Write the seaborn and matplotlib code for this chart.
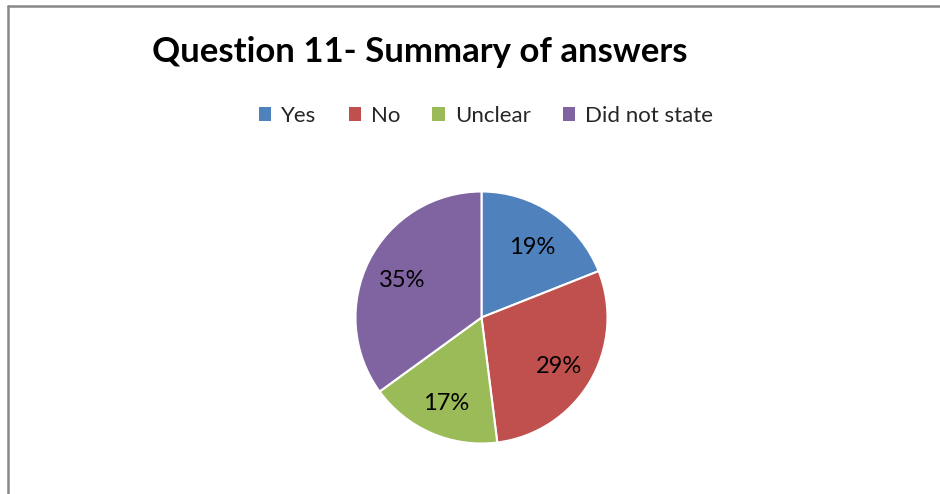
import matplotlib
matplotlib.use("Agg")
import matplotlib.pyplot as plt
import seaborn as sns
from matplotlib.patches import Patch
from matplotlib.lines import Line2D

categories = ["Yes", "No", "Unclear", "Did not state"]
values = [19, 29, 17, 35]
colors = ["#4F81BD", "#C0504D", "#9BBB59", "#8064A2"]
title = "Question 11- Summary of answers"

sns.set_theme(style="white")
plt.rcParams["font.family"] = ["Lato", "DejaVu Sans"]

W, H = 940, 494
fig = plt.figure(figsize=(W / 100, H / 100), dpi=100)
fig.patch.set_facecolor("white")

cx, cy, r = 481.5, 317.5, 126
ax = fig.add_axes([(cx - r) / W, (H - cy - r) / H, 2 * r / W, 2 * r / H])
wedges, texts = ax.pie(
    values,
    colors=colors,
    startangle=90,
    counterclock=False,
    labels=[f"{v}%" for v in values],
    labeldistance=0.71,
    wedgeprops=dict(edgecolor="white", linewidth=1.5),
    textprops=dict(fontsize=17, color="black"),
)
for t in texts:
    t.set_horizontalalignment("center")
    t.set_verticalalignment("center")
    x, y = t.get_position()
    t.set_position((x, y - 0.03))
ax.set_xlim(-1, 1)
ax.set_ylim(-1, 1)
ax.set_aspect("equal")
ax.axis("off")

fig.text(152 / W, 1 - 52 / H, title, fontsize=25, fontweight="bold",
         ha="left", va="center", color="black")

handles = [Patch(facecolor=c, edgecolor="none") for c in colors]
fig.legend(handles, categories, loc="center", bbox_to_anchor=(486 / W, 1 - 116 / H),
           ncol=4, frameon=False, fontsize=16, handlelength=0.55, handleheight=0.55,
           handletextpad=0.45, columnspacing=1.45)

# chart border (top and left visible)
lc = "#888888"
fig.add_artist(Line2D([8 / W, 8 / W], [0, 1 - 6 / H], color=lc, lw=1.8,
                      transform=fig.transFigure))
fig.add_artist(Line2D([8 / W, 1], [1 - 6 / H, 1 - 6 / H], color=lc, lw=1.8,
                      transform=fig.transFigure))

fig.savefig("out.png", dpi=100)
